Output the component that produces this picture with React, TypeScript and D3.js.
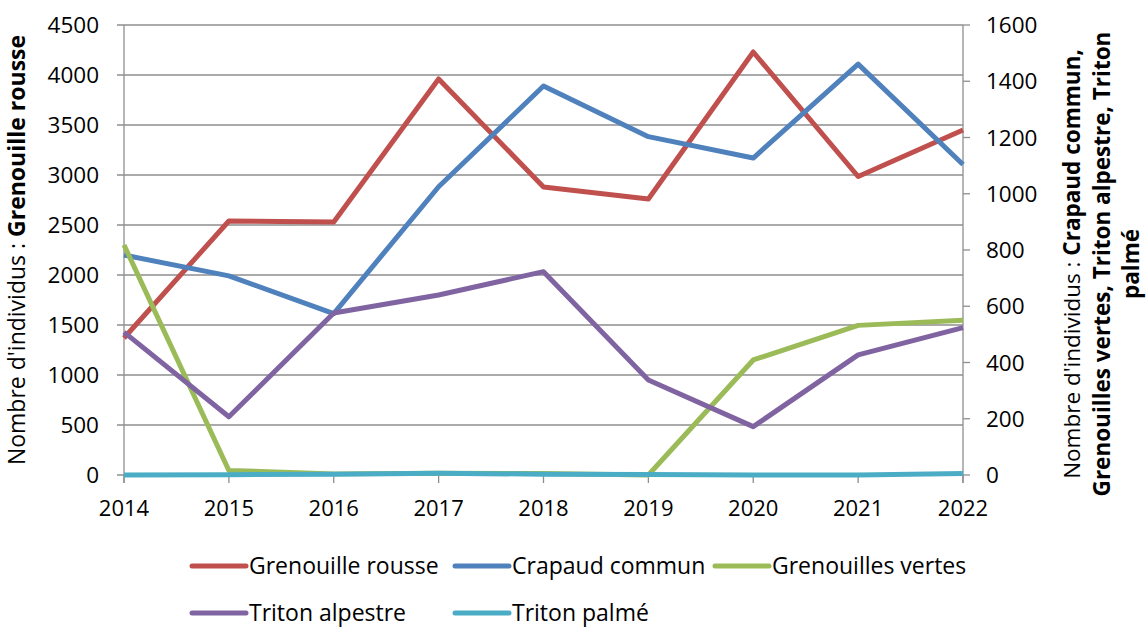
import * as d3 from 'd3';

const years = [2014, 2015, 2016, 2017, 2018, 2019, 2020, 2021, 2022];

// left axis
const grenouilleRousse = [1370, 2540, 2530, 3960, 2880, 2760, 4230, 2985, 3450];
// right axis
const crapaudCommun = [782, 708, 574, 1025, 1383, 1203, 1127, 1461, 1104];
const grenouillesVertes = [818, 16, 4, 6, 5, 0, 409, 532, 550];
const tritonAlpestre = [508, 207, 576, 640, 723, 338, 172, 427, 524];
const tritonPalme = [0, 1, 3, 6, 3, 2, 0, 0, 5];

const leftTicks = [0, 500, 1000, 1500, 2000, 2500, 3000, 3500, 4000, 4500];
const rightTicks = [0, 200, 400, 600, 800, 1000, 1200, 1400, 1600];

const series = [
  { name: 'Grenouille rousse', values: grenouilleRousse, color: '#C0504D', axis: 'left' },
  { name: 'Crapaud commun', values: crapaudCommun, color: '#4F81BD', axis: 'right' },
  { name: 'Grenouilles vertes', values: grenouillesVertes, color: '#9BBB59', axis: 'right' },
  { name: 'Triton alpestre', values: tritonAlpestre, color: '#8064A2', axis: 'right' },
  { name: 'Triton palmé', values: tritonPalme, color: '#4BACC6', axis: 'right' },
];

const W = 1146;
const H = 628;
const plotLeft = 124;
const plotRight = 963;
const plotTop = 25;
const plotBottom = 475;
const font = "'Open Sans', 'Liberation Sans', sans-serif";
const gridColor = '#8E8E8E';

export default function App() {
  const x = d3.scaleLinear().domain([2014, 2022]).range([plotLeft, plotRight]);
  const yL = d3.scaleLinear().domain([0, 4500]).range([plotBottom, plotTop]);
  const yR = d3.scaleLinear().domain([0, 1600]).range([plotBottom, plotTop]);

  const legendPos = [
    { lx: 192, ly: 566 },
    { lx: 455, ly: 566 },
    { lx: 715, ly: 566 },
    { lx: 192, ly: 613 },
    { lx: 455, ly: 613 },
  ];

  return (
    <svg
      width={W}
      height={H}
      style={{ position: 'fixed', left: 0, top: 0, background: '#fff' }}
      fontFamily={font}
    >
      {/* gridlines */}
      {leftTicks.map(t => (
        <line key={'g' + t} x1={plotLeft - 7} x2={plotRight} y1={yL(t)} y2={yL(t)}
          stroke={gridColor} strokeWidth={1.3} />
      ))}
      {/* right ticks */}
      {rightTicks.map(t => (
        <line key={'rt' + t} x1={plotRight} x2={plotRight + 7} y1={yR(t)} y2={yR(t)}
          stroke={gridColor} strokeWidth={1.3} />
      ))}
      {/* x ticks */}
      {years.map(yr => (
        <line key={'xt' + yr} x1={x(yr)} x2={x(yr)} y1={plotBottom} y2={plotBottom + 8}
          stroke={gridColor} strokeWidth={1.3} />
      ))}
      {/* axis lines */}
      <line x1={plotLeft} x2={plotLeft} y1={plotTop} y2={plotBottom + 8} stroke={gridColor} strokeWidth={1.3} />
      <line x1={plotRight} x2={plotRight} y1={plotTop} y2={plotBottom + 8} stroke={gridColor} strokeWidth={1.3} />

      {/* tick labels */}
      {leftTicks.map(t => (
        <text key={'lt' + t} x={99} y={yL(t)} dy="0.36em" textAnchor="end" fontSize={22.5} fill="#000">{t}</text>
      ))}
      {rightTicks.map(t => (
        <text key={'rl' + t} x={986} y={yR(t)} dy="0.36em" textAnchor="start" fontSize={22.5} fill="#000">{t}</text>
      ))}
      {years.map(yr => (
        <text key={'xl' + yr} x={x(yr)} y={516} textAnchor="middle" fontSize={22} fill="#000">{yr}</text>
      ))}

      {/* series */}
      {series.map(s => {
        const y = s.axis === 'left' ? yL : yR;
        const line = d3.line<number>().x((_, i) => x(years[i])).y(d => y(d));
        return (
          <path key={s.name} d={line(s.values) ?? ''} fill="none" stroke={s.color}
            strokeWidth={5} strokeLinejoin="round" />
        );
      })}

      {/* left axis title */}
      <text transform="translate(25,250) rotate(-90)" textAnchor="middle" fontSize={23} fill="#000">
        <tspan>Nombre d'individus  : </tspan>
        <tspan fontWeight="bold">Grenouille rousse</tspan>
      </text>

      {/* right axis title */}
      <g transform="translate(1102,264) rotate(-90)">
        <text x={0} y={-22} textAnchor="middle" fontSize={22.5} fill="#000">
          <tspan>Nombre d'individus : </tspan>
          <tspan fontWeight="bold">Crapaud commun,</tspan>
        </text>
        <text x={0} y={8} textAnchor="middle" fontSize={22.5} fontWeight="bold" fill="#000">
          Grenouilles vertes,  Triton alpestre, Triton
        </text>
        <text x={0} y={37} textAnchor="middle" fontSize={22.5} fontWeight="bold" fill="#000">
          palmé
        </text>
      </g>

      {/* legend */}
      {series.map((s, i) => {
        const p = legendPos[i];
        return (
          <g key={'lg' + s.name} transform={`translate(${p.lx},${p.ly})`}>
            <line x1={0} x2={54} y1={0} y2={0} stroke={s.color} strokeWidth={5} strokeLinecap="round" />
            <text x={57} y={0} dy="0.36em" fontSize={23} fill="#000">{s.name}</text>
          </g>
        );
      })}
    </svg>
  );
}
